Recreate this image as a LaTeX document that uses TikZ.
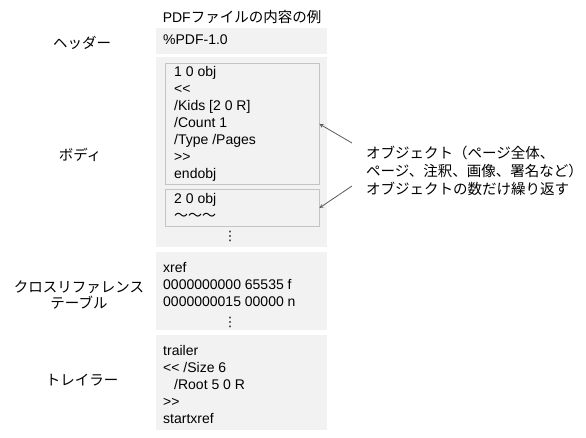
\documentclass[tikz,border=0pt]{standalone}
\usepackage{fontspec}
\usepackage{xcolor}
\setmainfont{Liberation Sans}
\newfontfamily\jp{Noto Sans CJK JP}
\newfontfamily\dv{DejaVu Sans}
\definecolor{panelgray}{HTML}{F2F2F2}
\definecolor{boxgray}{HTML}{C4C4C4}
\definecolor{arrowgray}{HTML}{5A5A5A}

\begin{document}
\begin{tikzpicture}[x=1pt,y=-1pt,>=stealth,font={\fontsize{14}{17}\selectfont},
  panel/.style={fill=panelgray,draw=none,anchor=north west,inner sep=0pt,minimum width=171.5pt},
  objbox/.style={fill=panelgray,draw=boxgray,line width=0.9pt,anchor=north west,inner sep=0pt,minimum width=153.5pt},
  code/.style={anchor=north west,inner sep=0pt,align=left},
  part/.style={font={\jp\fontsize{14.5}{16}\selectfont},align=center,inner sep=0pt},
  moredots/.style={inner sep=0pt,font={\dv\fontsize{13}{13}\selectfont}},
  pointer/.style={->,draw=arrowgray,line width=0.8pt}]
\useasboundingbox (0,0) rectangle (586,437);

% title
\node[part] (title) at (242,17) {{\rmfamily\fontsize{14}{16}\selectfont PDF}ファイルの内容の例};

% grey panels of the file
\node[panel,minimum height=26pt] (head) at (155.5,28) {};
\node[panel,minimum height=190pt] (body) at (155.5,57) {};
\node[panel,minimum height=78pt] (xref) at (155.5,252) {};
\node[panel,minimum height=95pt] (trail) at (155.5,335) {};

% objects inside the body
\node[objbox,minimum height=121pt] (obj1) at (165,63) {};
\node[objbox,minimum height=37pt] (obj2) at (165,189) {};

% contents
\node[code] (headtxt) at (163,35) {\%PDF-1.0};
\node[code] (obj1txt) at (174,66) {1 0 obj\\<{}<\\/Kids [2 0 R]\\/Count 1\\/Type /Pages\\>{}>\\endobj};
\node[code] (obj2txt) at (174,193) {2 0 obj\\{\jp 〜〜〜}};
\node[moredots] (bodydots) at (230,236) {⋮};
\node[code] (xreftxt) at (163,262) {xref\\0000000000 65535 f\\0000000015 00000 n};
\node[moredots] (xrefdots) at (230,322) {⋮};
\node[code] (trailtxt) at (163,345) {trailer\\<{}< /Size 6\\\hspace*{11pt}/Root 5 0 R\\>{}>\\startxref};

% section names
\node[part] (headlbl) at (82,43) {ヘッダー};
\node[part] (bodylbl) at (80,155) {ボディ};
\node[part] (xreflbl) at (79,295) {クロスリファレンス\\テーブル};
\node[part] (traillbl) at (82,380) {トレイラー};

% note on the objects
\node[part,align=left,anchor=west,font={\jp\fontsize{14.5}{18}\selectfont}] (note) at (366,171)
{オブジェクト（ページ全体、\\ページ、注釈、画像、署名など）\\オブジェクトの数だけ繰り返す};
\coordinate (from1) at (352,143);
\coordinate (from2) at (352,186);
\draw[pointer] (from1) -- (obj1.east);
\draw[pointer] (from2) -- (obj2.east);
\end{tikzpicture}
\end{document}
